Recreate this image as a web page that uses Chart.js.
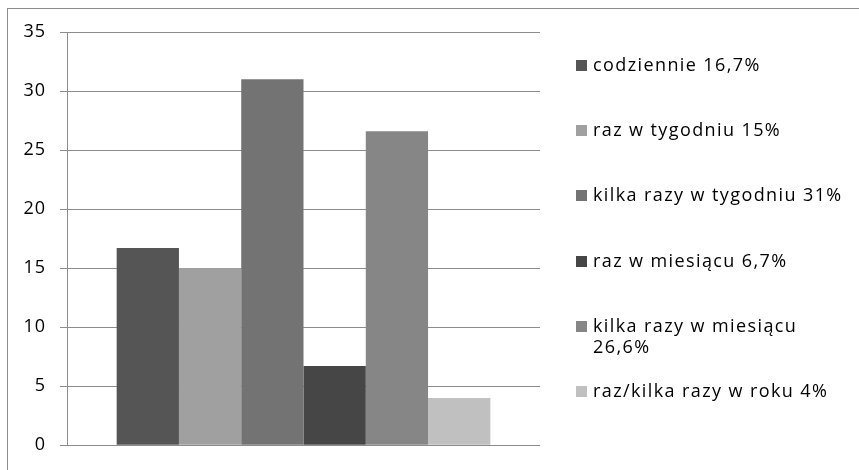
<!DOCTYPE html>
<html>
<head>
<meta charset="utf-8">
<script src="https://cdn.jsdelivr.net/npm/chart.js@4"></script>
<style>
  html, body { margin: 0; padding: 0; background: #fff; }
  #wrap { position: relative; width: 859px; height: 470px; overflow: hidden; }
  #frame { position: absolute; left: 7px; top: 8px; width: 900px; height: 500px; border: 1px solid #8c8c8c; box-sizing: border-box; }
  canvas { position: absolute; left: 0; top: 0; }
</style>
</head>
<body>
<div id="wrap">
  <div id="frame"></div>
  <canvas id="chart" width="859" height="470"></canvas>
</div>
<script>
// dane
const seriesNames = ['codziennie', 'raz w tygodniu', 'kilka razy w tygodniu', 'raz w miesiącu', 'kilka razy w miesiącu', 'raz/kilka razy w roku'];
const seriesPct = ['16,7%', '15%', '31%', '6,7%', '26,6%', '4%'];
const seriesValues = [16.7, 15, 31, 6.7, 26.6, 4];
const seriesColors = ['#555555', '#a0a0a0', '#737373', '#464646', '#868686', '#c0c0c0'];
const yTicks = [0, 5, 10, 15, 20, 25, 30, 35];

const FONT = '"Open Sans", sans-serif';
const GRID = '#8c8c8c';

// rozstrzelone litery jak w oryginale
const spacing = {
  id: 'spacing',
  beforeDraw(chart) { chart.ctx.letterSpacing = '1px'; }
};

// legenda rysowana po prawej
const sideLegend = {
  id: 'sideLegend',
  afterDraw(chart) {
    const c = chart.ctx;
    const x0 = 576, tx = 593, maxW = 258;
    const ys = [66, 131, 196, 262, 327, 392];
    c.save();
    c.font = '18px ' + FONT;
    c.letterSpacing = '1.4px';
    c.textBaseline = 'middle';
    chart.data.datasets.forEach((ds, i) => {
      const y = ys[i];
      c.fillStyle = ds.backgroundColor;
      c.fillRect(x0, y - 6, 11, 11);
      c.fillStyle = '#000';
      const words = ds.label.split(' ');
      const lines = [];
      let cur = '';
      for (const w of words) {
        const t = cur ? cur + ' ' + w : w;
        if (c.measureText(t).width > maxW && cur) { lines.push(cur); cur = w; }
        else cur = t;
      }
      lines.push(cur);
      lines.forEach((l, k) => c.fillText(l, tx, y + k * 21));
    });
    c.restore();
  }
};

new Chart(document.getElementById('chart'), {
  type: 'bar',
  data: {
    labels: [''],
    datasets: seriesNames.map((n, i) => ({
      label: n + ' ' + seriesPct[i],
      data: [seriesValues[i]],
      backgroundColor: seriesColors[i],
      borderWidth: 0,
      barPercentage: 1,
      categoryPercentage: 0.79
    }))
  },
  options: {
    responsive: false,
    animation: false,
    layout: { padding: { top: 32, bottom: 19, left: 0, right: 319 } },
    plugins: { legend: { display: false }, tooltip: { enabled: false } },
    scales: {
      x: { display: false },
      y: {
        min: 0, max: 35,
        afterFit(s) { s.width = 67; },
        afterBuildTicks(s) { s.ticks = yTicks.map(v => ({ value: v })); },
        grid: { color: GRID, lineWidth: 1, tickLength: 7, tickColor: GRID },
        border: { display: true, color: GRID, width: 1 },
        ticks: { color: '#000', padding: 14, font: { family: FONT, size: 18 } }
      }
    }
  },
  plugins: [spacing, sideLegend]
});
</script>
</body>
</html>
